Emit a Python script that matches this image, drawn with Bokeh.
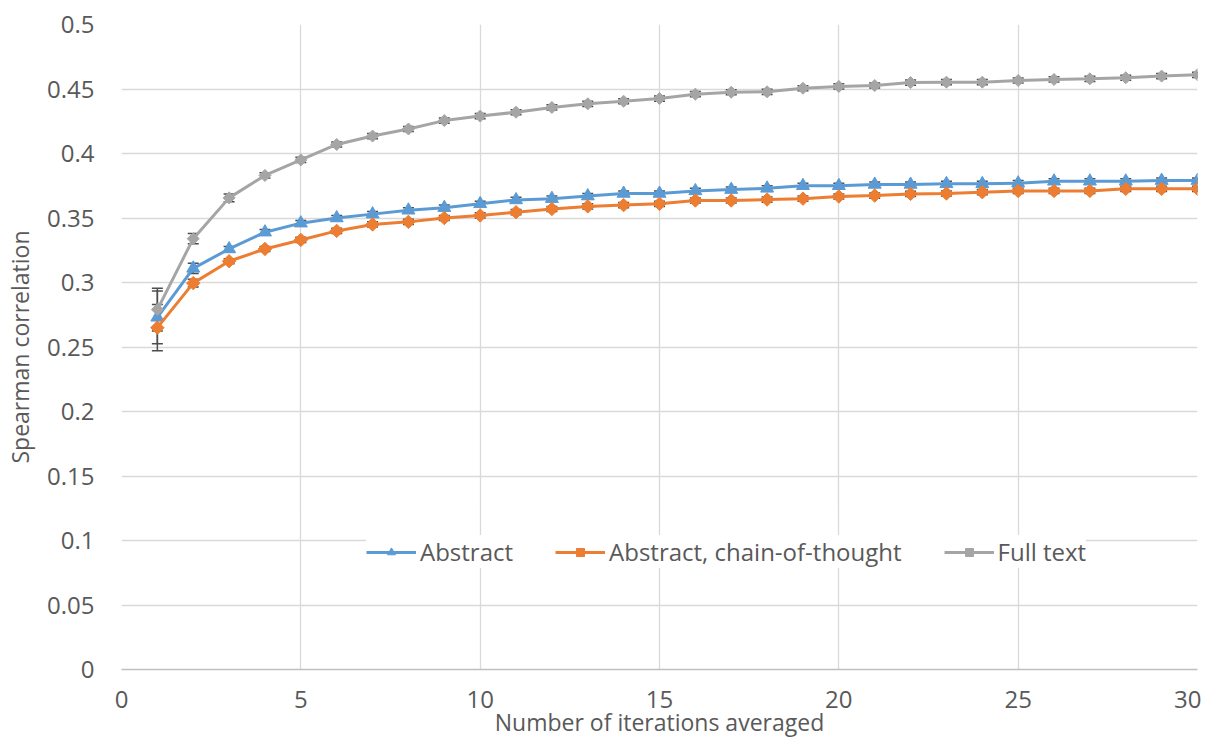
import numpy as np
from bokeh.plotting import figure
from bokeh.models import (FixedTicker, CustomJSTickFormatter, Legend, LegendItem,
                          Whisker, TeeHead, ColumnDataSource)
from bokeh.embed import file_html
from bokeh.resources import INLINE

# ---- data ----
iterations = list(range(1, 31))
abstract = [0.273, 0.311, 0.326, 0.339, 0.346, 0.350, 0.353, 0.356, 0.358, 0.361,
            0.364, 0.365, 0.367, 0.369, 0.369, 0.371, 0.372, 0.373, 0.375, 0.375,
            0.376, 0.376, 0.3765, 0.3765, 0.377, 0.3785, 0.3785, 0.3785, 0.379, 0.379]
abstract_cot = [0.265, 0.2995, 0.3165, 0.326, 0.333, 0.340, 0.345, 0.347, 0.350, 0.352,
                0.3545, 0.357, 0.359, 0.360, 0.361, 0.3636, 0.3636, 0.3643, 0.365, 0.3667,
                0.3674, 0.3687, 0.369, 0.370, 0.371, 0.371, 0.371, 0.3726, 0.3726, 0.3726]
full_text = [0.279, 0.334, 0.3656, 0.383, 0.395, 0.407, 0.4135, 0.419, 0.4255, 0.429,
             0.432, 0.4357, 0.4385, 0.4405, 0.4426, 0.446, 0.4475, 0.4478, 0.4506, 0.452,
             0.4527, 0.455, 0.4553, 0.4553, 0.4566, 0.4574, 0.4579, 0.4587, 0.46, 0.461]
err_abstract = [0.0205, 0.004] + [0.002] * 28
err_cot = [0.018, 0.003] + [0.002] * 28
err_full = [0.0165, 0.004, 0.003] + [0.002] * 27

series_names = ["Abstract", "Abstract, chain-of-thought", "Full text"]
x_ticks = [0, 5, 10, 15, 20, 25, 30]
y_ticks = [0, 0.05, 0.1, 0.15, 0.2, 0.25, 0.3, 0.35, 0.4, 0.45, 0.5]

FONT = "Open Sans"
TXT = "#595959"

p = figure(width=1201, height=740, output_backend="svg", toolbar_location=None,
           x_range=(0, 30), y_range=(0, 0.5),
           min_border_left=121, min_border_right=4, min_border_top=24, min_border_bottom=71)
p.outline_line_color = None
p.background_fill_color = "white"
p.border_fill_color = "white"

# grid
p.xgrid.ticker = FixedTicker(ticks=x_ticks)
p.ygrid.ticker = FixedTicker(ticks=y_ticks)
for g in (p.xgrid, p.ygrid):
    g.grid_line_color = "#D9D9D9"
    g.grid_line_width = 1.3

# axes
p.xaxis.ticker = FixedTicker(ticks=x_ticks)
p.yaxis.ticker = FixedTicker(ticks=y_ticks)
p.yaxis.formatter = CustomJSTickFormatter(code="return tick == 0 ? '0' : String(Math.round(tick*100)/100);")
for ax in (p.xaxis, p.yaxis):
    ax.major_tick_line_color = None
    ax.minor_tick_line_color = None
    ax.major_label_text_font = FONT
    ax.major_label_text_font_size = "24px"
    ax.major_label_text_color = TXT
    ax.axis_label_text_font = FONT
    ax.axis_label_text_font_size = "23px"
    ax.axis_label_text_font_style = "normal"
    ax.axis_label_text_color = TXT
p.xaxis.axis_line_color = "#BFBFBF"
p.xaxis.axis_line_width = 1.3
p.yaxis.axis_line_color = None
p.xaxis.axis_label = "Number of iterations averaged"
p.yaxis.axis_label = "Spearman correlation"
p.xaxis.major_label_standoff = 15
p.xaxis.axis_label_standoff = -5
p.yaxis.major_label_standoff = 21
p.yaxis.axis_label_standoff = 8

colors = ["#5B9BD5", "#ED7D31", "#A5A5A5"]
ys = [abstract, abstract_cot, full_text]
errs = [err_abstract, err_cot, err_full]
markers = ["triangle", "square", "square"]
sizes = [13, 9.5, 8.5]
angles = [0, np.pi / 4, np.pi / 4]

items = []
for name, y, e, c, m, s, a in zip(series_names, ys, errs, colors, markers, sizes, angles):
    src = ColumnDataSource(dict(x=iterations, y=y,
                                lo=[v - d for v, d in zip(y, e)],
                                hi=[v + d for v, d in zip(y, e)]))
    w = Whisker(base="x", lower="lo", upper="hi", source=src,
                line_color="#4D4D4D", line_width=1.5,
                upper_head=TeeHead(size=11, line_color="#4D4D4D", line_width=1.5),
                lower_head=TeeHead(size=11, line_color="#4D4D4D", line_width=1.5))
    p.add_layout(w)
    ln = p.line("x", "y", source=src, line_color=c, line_width=3)
    sc = p.scatter("x", "y", source=src, marker=m, size=s, angle=a,
                   fill_color=c, line_color=c)
    items.append(LegendItem(label=name, renderers=[ln, sc]))

legend = Legend(items=items, orientation="horizontal", location=(245, 101),
                label_text_font=FONT, label_text_font_size="24px", label_text_color=TXT,
                glyph_width=50, glyph_height=20, label_standoff=4, spacing=42,
                padding=21, border_line_color=None, background_fill_color="white",
                background_fill_alpha=1.0)
p.add_layout(legend, "center")

open("out.html", "w").write(file_html(p, INLINE))
